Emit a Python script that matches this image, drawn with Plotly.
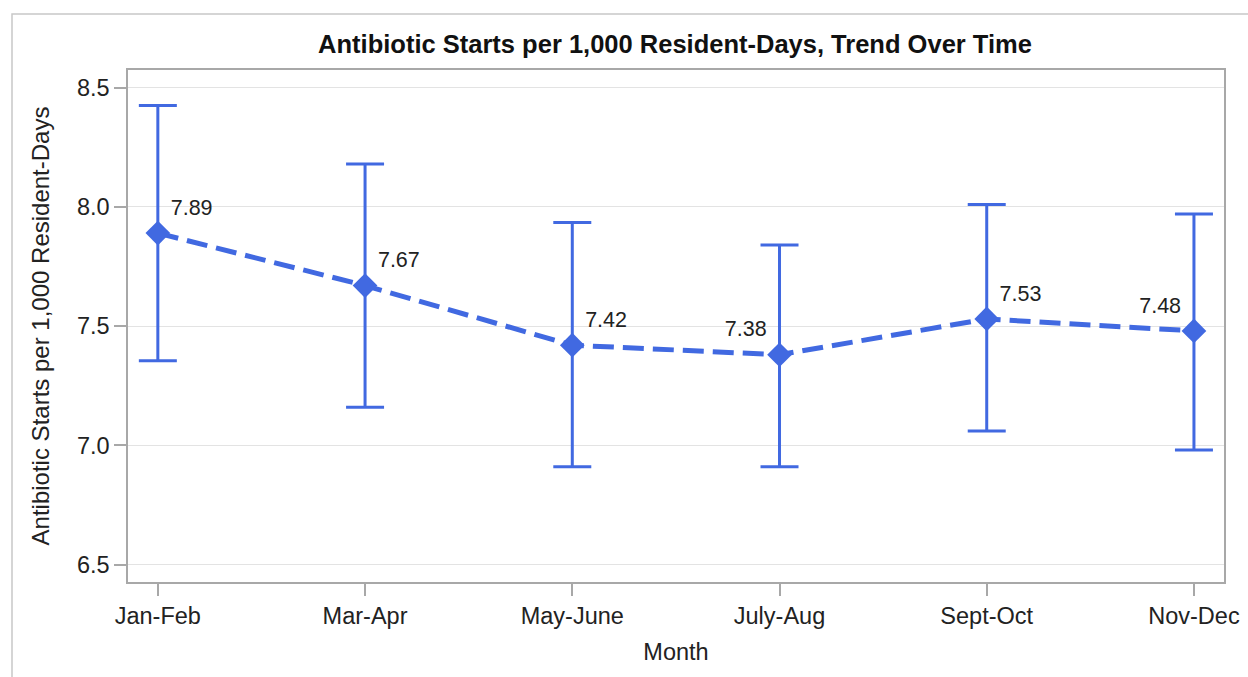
import plotly.graph_objects as go

# Bi-monthly antibiotic start rates with confidence limits
months = ["Jan-Feb", "Mar-Apr", "May-June", "July-Aug", "Sept-Oct", "Nov-Dec"]
rate = [7.89, 7.67, 7.42, 7.38, 7.53, 7.48]
upper_cl = [8.425, 8.18, 7.935, 7.84, 8.01, 7.97]
lower_cl = [7.355, 7.16, 6.91, 6.91, 7.06, 6.98]
label_pos = ["top right", "top right", "top right", "top left", "top right", "top left"]
y_ticks = [6.5, 7.0, 7.5, 8.0, 8.5]

BLUE = "#4169E1"
FONT = "Liberation Sans, Arial, sans-serif"
TXT = "#222222"

err_plus = [u - r for u, r in zip(upper_cl, rate)]
err_minus = [r - l for r, l in zip(rate, lower_cl)]

fig = go.Figure()
fig.add_trace(go.Scatter(
    x=list(range(len(months))),
    y=rate,
    mode="lines+markers+text",
    line=dict(color=BLUE, width=5, dash="21px,9px"),
    marker=dict(symbol="diamond", size=19, color=BLUE),
    text=[f"{v:.2f}" for v in rate],
    textposition=label_pos,
    textfont=dict(family=FONT, size=21.5, color=TXT),
    error_y=dict(type="data", symmetric=False, array=err_plus, arrayminus=err_minus,
                 color=BLUE, thickness=3, width=19),
    showlegend=False,
    cliponaxis=False,
))

fig.update_layout(
    width=1248, height=677,
    margin=dict(l=128, r=24, t=70, b=95),
    paper_bgcolor="white", plot_bgcolor="white",
    font=dict(family=FONT, color=TXT),
    title=dict(text="<b>Antibiotic Starts per 1,000 Resident-Days, Trend Over Time</b>",
               x=675 / 1248, xanchor="center", xref="container",
               y=1 - 44 / 677, yanchor="middle", yref="container",
               font=dict(size=25.5, color="#111")),
    xaxis=dict(
        range=[-0.144, 5.145], automargin=False,
        tickmode="array", tickvals=list(range(len(months))), ticktext=months,
        showgrid=False, zeroline=False,
        showline=True, linecolor="#a8a8a8", linewidth=1.5, mirror=True,
        ticks="outside", ticklen=12, tickcolor="#a8a8a8", tickwidth=1.5,
        tickfont=dict(size=23.5, color=TXT),
        title=dict(text="Month", font=dict(size=23.5, color=TXT), standoff=16),
    ),
    yaxis=dict(
        range=[6.427, 8.574], automargin=False,
        tickmode="array", tickvals=y_ticks, ticktext=[f"{v:.1f}" for v in y_ticks],
        showgrid=True, gridcolor="#e3e3e3", gridwidth=1.2, zeroline=False,
        showline=True, linecolor="#a8a8a8", linewidth=1.5, mirror=True,
        ticks="outside", ticklen=12, tickcolor="#a8a8a8", tickwidth=1.5,
        tickfont=dict(size=23.5, color=TXT),
        title=dict(text="Antibiotic Starts per 1,000 Resident-Days",
                   font=dict(size=24, color=TXT), standoff=20),
    ),
)

# outer frame around the graphic
fig.add_shape(type="rect", xref="paper", yref="paper",
              x0=-116 / 1096, x1=1.03, y0=-0.3, y1=1 + 56 / 512,
              line=dict(color="#c8c8c8", width=1.5), fillcolor="rgba(0,0,0,0)",
              layer="below")

fig.write_html("out.html")
